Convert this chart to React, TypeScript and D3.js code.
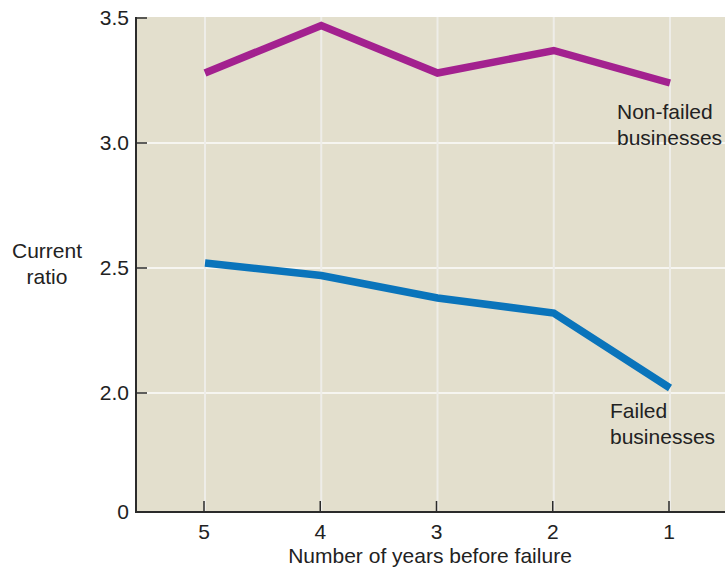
import { useEffect, useRef } from "react";
import * as d3 from "d3";

// years before failure (x) and current ratio (y)
const years = [5, 4, 3, 2, 1];
const nonFailed = [3.28, 3.47, 3.28, 3.37, 3.24];
const failed = [2.52, 2.47, 2.38, 2.32, 2.02];
const yTicks = [0, 2.0, 2.5, 3.0, 3.5];
const gridY = [2.0, 2.5, 3.0];

const FONT = "'Liberation Sans', Arial, Helvetica, sans-serif";
const FS = 21;

export default function App() {
  const svgRef = useRef<SVGSVGElement>(null);

  useEffect(() => {
    const el = svgRef.current;
    if (!el) return;
    const w = 725;
    const h = 570;
    const left = 136;
    const right = 725;
    const top = 17;
    const bottom = 512;

    d3.select(el).selectAll("*").remove();
    const svg = d3.select(el).attr("width", w).attr("height", h).attr("viewBox", `0 0 ${w} ${h}`);

    const x = d3.scaleLinear().domain([5, 1]).range([205, 670]);
    // broken axis: 0 sits just below 2.0
    const y = d3.scaleLinear().domain([0, 2, 3.5]).range([bottom, 393, 18]);

    svg
      .append("rect")
      .attr("x", left)
      .attr("y", top)
      .attr("width", right - left)
      .attr("height", bottom - top)
      .attr("fill", "#e3dfcd");

    // grid
    svg
      .selectAll("line.gy")
      .data(gridY)
      .join("line")
      .attr("x1", left)
      .attr("x2", right)
      .attr("y1", (d) => y(d))
      .attr("y2", (d) => y(d))
      .attr("stroke", "#f6f5f0")
      .attr("stroke-width", 2);

    svg
      .selectAll("line.gx")
      .data(years)
      .join("line")
      .attr("x1", (d) => x(d))
      .attr("x2", (d) => x(d))
      .attr("y1", top)
      .attr("y2", bottom)
      .attr("stroke", "#eeede8")
      .attr("stroke-width", 2);

    // axes
    const axisColor = "#2b2b2b";
    svg.append("line").attr("x1", left).attr("x2", left).attr("y1", top).attr("y2", bottom + 1)
      .attr("stroke", axisColor).attr("stroke-width", 2);
    svg.append("line").attr("x1", left).attr("x2", right).attr("y1", bottom).attr("y2", bottom)
      .attr("stroke", axisColor).attr("stroke-width", 2);

    svg
      .selectAll("line.ty")
      .data(yTicks.filter((d) => d > 0))
      .join("line")
      .attr("x1", left)
      .attr("x2", left + 11)
      .attr("y1", (d) => y(d))
      .attr("y2", (d) => y(d))
      .attr("stroke", axisColor)
      .attr("stroke-width", 1.5);

    svg
      .selectAll("line.tx")
      .data(years)
      .join("line")
      .attr("x1", (d) => x(d) - 1)
      .attr("x2", (d) => x(d) - 1)
      .attr("y1", bottom)
      .attr("y2", bottom - 11)
      .attr("stroke", axisColor)
      .attr("stroke-width", 1.5);

    svg
      .selectAll("text.ly")
      .data(yTicks)
      .join("text")
      .attr("x", 129)
      .attr("y", (d) => y(d))
      .attr("dy", "0.35em")
      .attr("text-anchor", "end")
      .attr("font-family", FONT)
      .attr("font-size", FS)
      .attr("fill", "#222")
      .text((d) => (d === 0 ? "0" : d3.format(".1f")(d)));

    svg
      .selectAll("text.lx")
      .data(years)
      .join("text")
      .attr("x", (d) => x(d) - 1)
      .attr("y", 539)
      .attr("text-anchor", "middle")
      .attr("font-family", FONT)
      .attr("font-size", FS)
      .attr("fill", "#222")
      .text((d) => String(d));

    svg.append("text").attr("x", 430).attr("y", 563).attr("text-anchor", "middle")
      .attr("font-family", FONT).attr("font-size", FS).attr("fill", "#222")
      .text("Number of years before failure");

    const yTitle = svg.append("text").attr("text-anchor", "middle")
      .attr("font-family", FONT).attr("font-size", FS).attr("fill", "#222");
    yTitle.append("tspan").attr("x", 47).attr("y", 258).text("Current");
    yTitle.append("tspan").attr("x", 47).attr("y", 284).text("ratio");

    // series
    const line = d3
      .line<number>()
      .x((_, i) => x(years[i]))
      .y((d) => y(d));

    svg.append("path").attr("d", line(nonFailed)).attr("fill", "none")
      .attr("stroke", "#a3218f").attr("stroke-width", 7.5);
    svg.append("path").attr("d", line(failed)).attr("fill", "none")
      .attr("stroke", "#0a74bb").attr("stroke-width", 7.5);

    // series labels
    const lab = (lines: string[], lx: number, ly: number) => {
      const t = svg.append("text").attr("font-family", FONT).attr("font-size", FS).attr("fill", "#222");
      lines.forEach((s, i) => t.append("tspan").attr("x", lx).attr("y", ly + i * 26).text(s));
    };
    lab(["Non-failed", "businesses"], 617, 119);
    lab(["Failed", "businesses"], 610, 418);
  }, []);

  return <svg ref={svgRef} style={{ position: "absolute", left: 0, top: 0 }} />;
}
